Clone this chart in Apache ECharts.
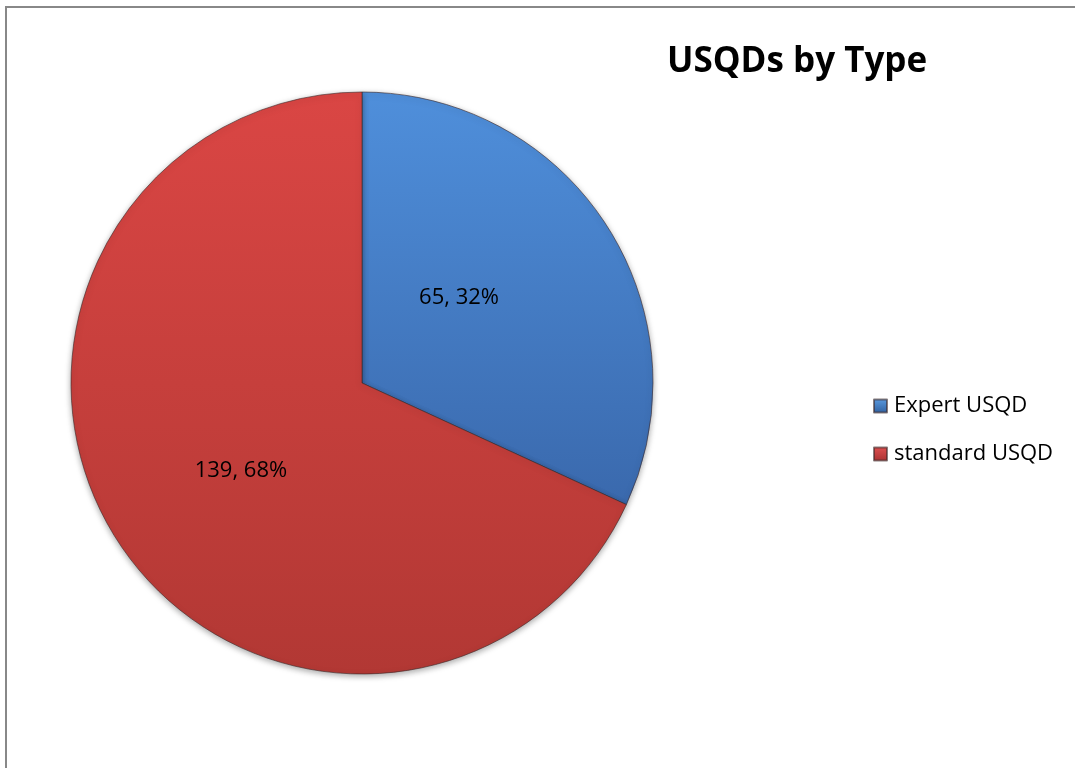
<!DOCTYPE html>
<html><head><meta charset="utf-8">
<script src="https://cdn.jsdelivr.net/npm/echarts@6/dist/echarts.min.js"></script>
<style>html,body{margin:0;padding:0;background:#fff}#c{width:1075px;height:768px}</style>
</head><body><div id="c"></div>
<script>
var categories = ['Expert USQD', 'standard USQD'];
var values = [65, 139];
var titleText = 'USQDs by Type';

var chart = echarts.init(document.getElementById('c'));
function grad(top, bottom) {
  return new echarts.graphic.LinearGradient(0, 0, 0, 1, [{offset: 0, color: top}, {offset: 1, color: bottom}]);
}
var colors = [grad('#4f8fdb', '#3a69ad'), grad('#da4644', '#b23834')];
var legendColors = [grad('#5b9be0', '#2f5f9f'), grad('#e05050', '#a83030')];
chart.setOption({
  animation: false,
  title: {
    text: titleText, left: 662, top: 40,
    textStyle: {fontFamily: 'Open Sans', fontWeight: 'bold', fontSize: 35, color: '#000'}
  },
  graphic: [{
    type: 'rect', shape: {x: 6, y: 7, width: 1200, height: 900},
    style: {fill: 'none', stroke: '#888', lineWidth: 2}, silent: true
  }],
  legend: {
    orient: 'vertical', left: 873, top: 395, padding: 0, itemWidth: 13, itemHeight: 13, itemGap: 26,
    icon: 'rect',
    textStyle: {fontFamily: 'Open Sans', fontSize: 22, color: '#000', padding: [0, 0, 0, 2]},
    data: categories.map(function (n, i) { return {name: n, itemStyle: {color: legendColors[i]}}; })
  },
  series: [{
    type: 'pie', center: [362, 383], radius: [0, 291], startAngle: 90, clockwise: true,
    label: {
      position: 'inside', fontFamily: 'Open Sans', fontSize: 22, color: '#000',
      formatter: function (p) { return p.value + ', ' + Math.round(p.percent) + '%'; }
    },
    labelLine: {show: false},
    itemStyle: {borderColor: 'rgba(60,40,40,0.6)', borderWidth: 1, shadowBlur: 6, shadowColor: 'rgba(0,0,0,0.35)', shadowOffsetY: 2},
    emphasis: {disabled: true},
    data: categories.map(function (n, i) {
      var d = {name: n, value: values[i], itemStyle: {color: colors[i]}};
      d.label = i === 0 ? {offset: [-28, -5]} : {offset: [4, 8]};
      return d;
    })
  }]
});
</script></body></html>
